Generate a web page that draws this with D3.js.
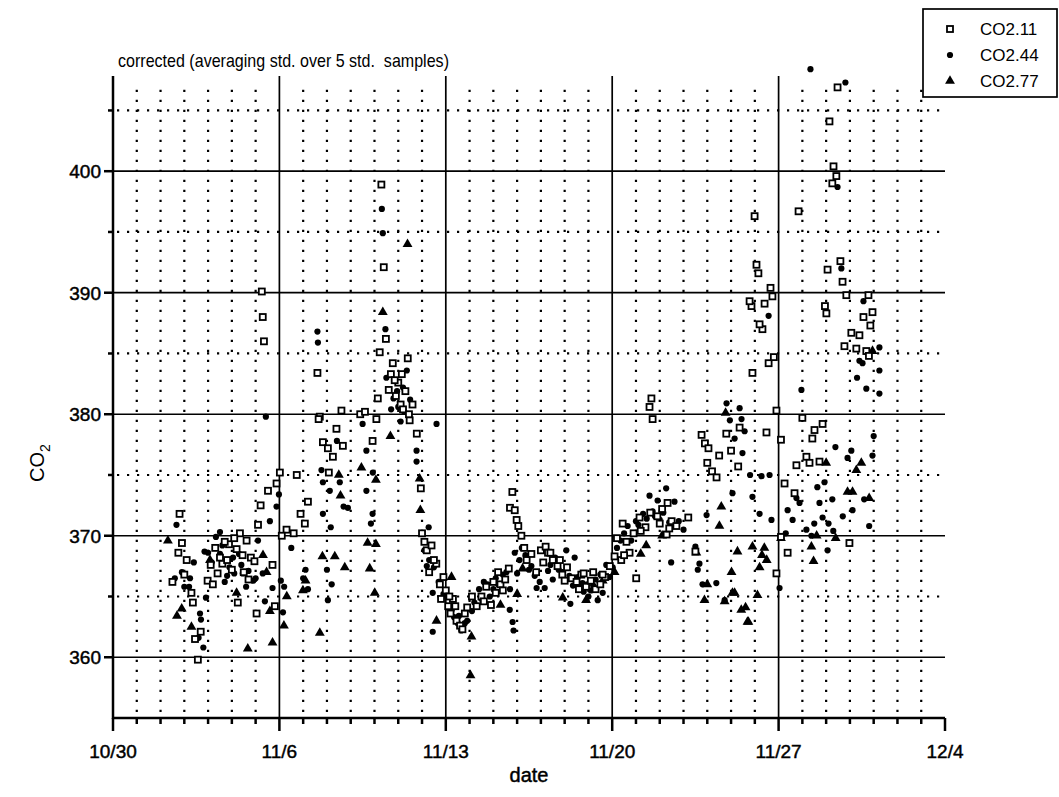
<!DOCTYPE html>
<html>
<head>
<meta charset="utf-8">
<script src="https://cdn.jsdelivr.net/npm/d3@7"></script>
<style>
  body { margin: 0; background: white; }
  text { font-family: "Liberation Sans", Arial, sans-serif; fill: black; }
  .ink { stroke: black; stroke-width: 0.45px; }
</style>
</head>
<body>
<svg id="chart" width="1059" height="797"></svg>
<script>
// days counted from 10/30, value = CO2 (ppm)
var co2_11 = [
  [2.5,366.2],[2.8,371.8],[2.9,369.4],[2.75,368.6],[3.1,368.0],[3.3,365.3],[3.36,364.5],[3.69,362.1],[3.57,359.8],[3.98,366.3],[4.11,367.6],[3.0,366.8],[3.45,361.5],
  [4.3,369.0],[4.6,367.7],[4.88,369.3],[5.0,367.2],[5.25,364.5],[5.34,370.2],[5.62,369.6],[5.5,367.0],[5.8,368.2],[6.04,363.6],[4.4,366.9],[4.8,368.0],[5.2,368.9],[4.2,366.0],
  [4.5,368.2],[4.7,369.5],[5.1,369.8],[5.45,368.4],[5.7,366.4],[5.95,367.9],
  [6.1,370.9],[6.21,372.5],[6.52,373.7],[6.88,374.3],[7.02,375.2],[6.81,364.2],[6.71,367.6],[6.26,390.1],[6.3,388.0],[6.35,386.0],
  [7.3,370.5],[7.6,370.2],[7.73,375.0],[7.89,371.8],[8.07,371.0],[8.2,372.8],[7.1,370.0],
  [8.7,379.8],[8.83,377.7],[9.04,377.2],[9.08,375.2],[9.25,376.5],[9.4,378.8],[9.61,380.3],[9.67,377.4],[8.6,383.4],[8.65,379.6],
  [10.4,380.0],[10.6,380.2],[10.92,377.8],[11.08,379.6],[11.14,381.3],[11.22,385.1],[11.29,398.9],[11.39,392.1],[11.48,386.2],[11.69,383.3],[11.77,384.2],
  [11.6,382.0],[11.9,381.5],[12.1,380.8],[12.3,381.9],[12.0,382.6],[12.2,380.4],[12.4,384.6],[12.48,379.5],[12.6,380.8],[12.78,378.4],[12.95,373.9],
  [11.85,382.8],[12.15,383.3],[12.45,380.0],
  [13.0,370.2],[13.1,369.5],[13.2,368.8],[13.4,369.2],[13.6,367.7],[13.75,366.0],[13.9,366.6],[14.0,365.5],[14.1,364.2],[14.3,364.8],[14.2,363.6],[14.45,363.0],[14.6,362.6],[14.8,363.6],[14.7,362.3],
  [13.3,367.0],[13.5,368.0],[13.8,364.8],[14.15,365.0],[14.4,364.2],[14.9,364.1],
  [15.3,364.2],[15.5,365.0],[15.7,365.8],[15.9,364.3],[16.1,365.3],[16.3,366.0],[16.5,366.4],[16.65,367.3],[16.8,373.6],[16.7,372.3],[16.9,372.1],[16.98,371.3],[17.05,370.8],[17.18,370.0],[17.3,369.0],[17.4,368.0],[17.6,368.5],[17.8,367.0],
  [15.1,365.0],[15.6,364.6],[16.0,366.2],[16.2,367.0],[16.4,365.5],
  [18.0,368.8],[18.2,369.1],[18.3,368.6],[18.5,368.0],[18.7,367.5],[18.9,366.8],[19.1,367.4],[19.3,366.5],[19.5,366.2],[19.7,366.8],[19.9,365.8],[20.1,366.3],[20.3,365.6],[20.5,366.0],[20.7,366.6],
  [18.1,367.8],[18.4,368.6],[18.8,368.0],[19.0,366.3],[19.6,365.6],[19.8,366.9],[20.2,367.0],[20.6,366.8],
  [20.9,367.5],[21.1,368.3],[21.38,368.0],[21.44,371.0],[21.6,369.5],[21.73,368.6],[22.01,366.5],[21.9,370.2],[22.15,371.5],[22.4,370.7],[22.57,380.6],[22.65,381.3],[22.7,379.6],[22.9,371.6],[23.1,372.2],[23.29,370.1],[23.33,372.7],[23.5,371.2],[23.7,370.8],
  [21.2,369.8],[21.5,368.4],[22.2,370.4],[22.6,371.9],[23.0,371.0],[23.4,370.6],
  [24.2,371.5],[24.5,368.7],[24.76,378.3],[24.9,377.6],[25.05,377.2],[25.0,376.0],[25.2,375.3],[25.39,374.8],[25.5,376.6],[25.8,378.4],[26.36,378.9],[26.0,377.0],[26.3,375.7],
  [26.86,388.9],[26.9,383.4],[26.99,396.3],[27.07,392.3],[27.15,391.6],[26.78,389.3],[27.32,387.0],[27.41,389.1],[27.2,387.4],[27.66,390.4],[27.74,389.7],[27.58,384.2],[27.8,384.7],[27.49,378.5],[27.91,380.3],[28.1,377.9],[28.25,374.3],[28.38,368.6],[27.91,366.9],[28.1,369.9],
  [28.67,373.5],[28.75,375.8],[28.84,396.7],[29.0,379.7],[29.17,376.5],[29.3,376.0],[29.51,378.7],[29.72,376.1],[29.85,379.2],[29.42,378.0],[30.01,388.3],[29.95,388.9],[30.06,391.9],[30.14,404.1],
  [30.26,399.0],[30.31,400.4],[30.43,399.6],[30.48,406.9],[30.6,392.6],[30.69,390.9],[30.85,389.8],[30.77,385.6],[30.98,369.4],[31.06,386.7],[31.27,385.4],[31.4,386.5],[31.57,388.0],[31.69,385.2],[31.78,389.8],[31.86,387.3],[31.95,388.4],[31.8,384.8]
];

var co2_44 = [
  [2.67,370.9],[2.9,367.0],[3.0,365.8],[3.2,365.8],[3.24,366.5],[3.66,363.6],[3.7,363.1],[3.6,361.6],[3.8,360.8],[3.91,364.9],[2.6,366.5],[3.4,367.8],[3.85,368.7],
  [4.33,369.9],[4.5,368.5],[4.7,366.2],[4.9,367.4],[5.1,366.9],[5.46,366.9],[5.6,365.8],[5.9,366.3],[6.1,369.6],[6.39,364.6],[6.6,371.2],[6.71,365.7],[6.98,373.4],[6.88,372.4],[6.43,379.8],[5.3,368.5],[4.5,370.3],
  [4.0,368.6],[4.15,367.8],[4.6,369.2],[4.8,366.7],[5.05,368.2],[5.4,367.6],[5.7,367.1],[6.0,366.5],[6.3,366.9],
  [7.06,366.3],[7.2,365.8],[7.15,363.7],[7.5,369.0],[8.0,366.5],[8.1,367.2],[8.2,365.6],[8.6,386.8],[8.62,385.9],[8.77,375.4],[8.83,374.4],[8.83,371.8],[9.04,364.7],[9.0,367.2],[9.12,373.7],[9.16,370.7],[9.2,366.0],[9.42,377.8],[9.54,374.4],[9.7,372.4],[9.88,372.3],
  [10.5,379.2],[10.66,377.0],[10.66,373.7],[10.92,371.8],[10.85,371.0],[10.93,375.2],[11.31,396.9],[11.35,394.9],[11.46,387.0],[11.5,383.0],[11.8,381.3],[12.0,380.6],[12.2,382.2],[12.36,383.6],[12.1,379.4],[12.77,377.0],[12.77,376.1],
  [11.7,380.4],[11.95,381.9],[12.25,380.2],[12.5,381.2],
  [13.28,370.7],[13.61,379.2],[13.45,365.3],[13.45,362.1],[13.3,368.0],[13.5,367.4],
  [13.1,368.8],[13.2,367.5],[13.7,366.2],[13.9,365.2],[14.25,363.9],[14.55,363.4],[14.8,362.8],
  [14.05,365.0],[14.15,364.0],[14.35,363.3],[14.5,362.8],[14.65,362.2],[14.9,363.0],[15.1,363.8],[15.4,365.6],[15.6,366.2],[15.85,365.0],[16.1,366.5],[16.4,366.8],[16.69,363.9],[16.81,362.9],[16.85,362.2],[16.7,365.6],
  [15.2,364.5],[15.5,364.8],[15.75,366.0],[16.0,365.6],[16.2,366.0],[16.55,367.0],[16.9,368.6],
  [17.0,366.9],[17.2,369.0],[17.5,367.2],[17.74,366.7],[17.82,365.7],[17.95,366.2],[18.16,365.7],
  [17.1,368.0],[17.35,368.4],[17.6,367.5],[18.3,367.1],[18.5,366.4],[18.75,367.2],
  [18.4,367.6],[18.6,368.2],[18.92,367.0],[19.07,368.8],[19.24,364.4],[19.42,368.2],[19.6,366.0],[19.8,365.4],[20.0,365.0],[20.2,365.9],[20.39,364.7],[20.6,365.3],[20.89,366.6],[21.02,367.4],[21.2,369.0],[21.5,370.2],[21.8,369.6],
  [19.2,366.7],[19.35,365.9],[19.55,366.6],[19.75,366.1],[19.95,366.0],[20.1,365.5],[20.3,366.4],[20.5,366.8],[20.75,367.6],[21.35,369.6],[21.65,370.8],
  [22.1,370.9],[22.3,371.8],[22.57,373.3],[22.7,372.0],[22.91,372.9],[23.0,371.3],[23.27,373.9],[23.48,367.8],[23.62,372.8],[23.8,371.2],[24.0,370.5],
  [22.0,371.2],[22.45,371.4],[22.8,371.6],[23.15,371.9],[23.4,371.1],
  [24.5,369.1],[24.6,367.2],[24.67,367.7],[24.8,366.0],[24.97,371.7],[25.38,366.1],[25.73,364.7],[25.81,380.9],[25.95,379.5],[26.06,373.5],[26.15,378.0],[26.36,380.5],[26.44,379.6],[26.57,378.6],[26.48,376.8],[26.9,373.2],[26.8,375.0],
  [27.28,374.9],[27.2,371.8],[27.58,388.1],[27.62,375.0],[27.7,371.3],[28.04,365.7],[28.3,370.2],[28.38,372.1],[28.59,371.3],[28.75,373.1],[28.88,372.7],
  [28.96,382.0],[29.17,370.5],[29.34,408.4],[29.38,370.0],[29.5,371.0],[29.63,374.0],[29.72,372.7],[29.85,371.5],[29.93,374.4],[30.06,368.8],[30.1,371.0],[30.26,373.0],[30.39,377.3],[30.3,370.4],
  [30.48,398.7],[30.64,392.0],[30.7,371.6],[30.81,407.3],[30.9,376.4],[31.06,377.0],[31.11,372.1],[31.3,383.0],[31.4,384.4],[31.53,384.2],[31.57,389.3],[31.69,382.1],[31.81,370.8],[31.95,376.6],[32.0,378.2],[32.24,385.5],[32.24,383.6],[32.24,381.7],[31.6,373.0]
];

var co2_77 = [
  [2.31,369.6],[2.89,364.0],[2.69,363.4],[3.3,362.5],[4.08,368.0],[5.2,365.3],[5.67,360.7],[6.31,368.4],[6.46,367.0],[6.6,363.8],[6.71,361.2],[7.19,362.6],[7.31,365.0],[7.99,365.5],[8.1,366.3],
  [8.7,362.0],[8.81,368.3],[9.33,368.3],[9.5,375.0],[9.57,373.3],[9.75,367.4],[10.45,375.6],[10.71,369.4],[10.8,367.3],[11.01,365.3],[11.06,374.6],[11.06,369.3],[11.35,388.4],[11.67,378.2],[12.39,394.0],
  [12.9,374.7],[12.93,372.1],[13.61,363.0],[14.24,366.6],[15.04,358.5],[15.08,361.7],[16.3,364.3],[17.23,367.3],[17.0,365.2],[18.92,364.9],[19.9,364.7],[20.6,366.3],[21.1,367.0],[22.43,369.2],[22.2,368.5],[23.1,370.0],
  [24.54,368.6],[24.88,364.7],[25.0,366.0],[25.51,370.8],[25.59,372.4],[25.73,364.6],[25.77,380.1],[26.02,367.0],[26.06,365.3],[26.15,365.3],[26.27,368.7],[26.43,363.9],[26.61,364.1],[26.69,362.9],[26.73,362.9],
  [27.11,365.1],[27.2,367.4],[26.9,369.1],[27.3,368.4],[27.5,368.0],[27.4,369.0],[28.1,369.8],[29.38,369.1],[29.47,367.9],[29.6,370.0],[30.4,369.8],[30.9,373.6],[31.11,373.6],[31.27,375.4],[31.48,376.0],[31.81,373.1],[31.95,385.2],[30.0,376.0]
];

// axis ticks
var dayTicks = [0, 7, 14, 21, 28, 35];
var dayLabels = ["10/30", "11/6", "11/13", "11/20", "11/27", "12/4"];
var valueTicks = [360, 370, 380, 390, 400];
var legendNames = ["CO2.11", "CO2.44", "CO2.77"];

var svg = d3.select("#chart");

var x = d3.scaleLinear().domain([0, 35]).range([113, 945]);
var y = d3.scaleLinear().domain([355, 408]).range([718, 74]);
var plotTop = 76;

// dotted day grid
var grid = svg.append("g");
d3.range(1, 35).filter(function(d) { return d % 7 !== 0; }).forEach(function(d) {
    grid.append("line")
        .attr("x1", x(d)).attr("x2", x(d))
        .attr("y1", y(355) - 6).attr("y2", plotTop + 10)
        .attr("stroke", "black").attr("stroke-width", 2.2)
        .attr("stroke-dasharray", "2.2,7.8");
});
// dotted half-decade lines
[365, 375, 385, 395, 405].forEach(function(v) {
    grid.append("line")
        .attr("x1", x(0) + 4).attr("x2", x(35))
        .attr("y1", y(v)).attr("y2", y(v))
        .attr("stroke", "black").attr("stroke-width", 2.2)
        .attr("stroke-dasharray", "2.2,7.8");
});
// solid week lines
[7, 14, 21, 28].forEach(function(d) {
    grid.append("line")
        .attr("x1", x(d)).attr("x2", x(d))
        .attr("y1", y(355)).attr("y2", plotTop)
        .attr("stroke", "black").attr("stroke-width", 1.7);
});
valueTicks.forEach(function(v) {
    grid.append("line")
        .attr("x1", x(0)).attr("x2", x(35))
        .attr("y1", y(v)).attr("y2", y(v))
        .attr("stroke", "black").attr("stroke-width", 1.7);
});

// x axis: minor ticks each day, major each week
var xAxis = svg.append("g").attr("transform", "translate(0," + y(355) + ")");
xAxis.append("line").attr("x1", x(0)).attr("x2", x(35))
    .attr("stroke", "black").attr("stroke-width", 2.5);
d3.range(0, 36).forEach(function(d) {
    xAxis.append("line")
        .attr("x1", x(d)).attr("x2", x(d))
        .attr("y1", 0).attr("y2", d % 7 === 0 ? 13 : 6)
        .attr("stroke", "black").attr("stroke-width", 2.5);
});
xAxis.selectAll("text.tick").data(dayTicks).enter().append("text")
    .attr("class", "ink")
    .attr("x", function(d) { return x(d); })
    .attr("y", 40)
    .attr("text-anchor", "middle")
    .style("font-size", "19px")
    .text(function(d, i) { return dayLabels[i]; });
svg.append("text").attr("class", "ink").attr("x", x(17.5)).attr("y", 782)
    .attr("text-anchor", "middle").style("font-size", "20px").text("date");

// y axis
var yAxis = svg.append("g");
yAxis.append("line").attr("x1", x(0)).attr("x2", x(0))
    .attr("y1", plotTop).attr("y2", y(355) + 1)
    .attr("stroke", "black").attr("stroke-width", 2.5);
d3.range(360, 410, 5).forEach(function(v) {
    yAxis.append("line")
        .attr("x1", x(0)).attr("x2", x(0) - (v % 10 === 0 ? 9 : 5))
        .attr("y1", y(v)).attr("y2", y(v))
        .attr("stroke", "black").attr("stroke-width", 2.5);
});
yAxis.selectAll("text").data(valueTicks).enter().append("text")
    .attr("class", "ink")
    .attr("x", 101).attr("y", function(v) { return y(v) + 7; })
    .attr("text-anchor", "end")
    .style("font-size", "19px")
    .text(function(v) { return v; });
var yl = svg.append("text")
    .attr("transform", "translate(44," + 463 + ") rotate(-90)")
    .attr("text-anchor", "middle").style("font-size", "20px");
yl.append("tspan").text("CO");
yl.append("tspan").attr("dy", 6).style("font-size", "14px").text("2");

// title
svg.append("text").attr("x", 118).attr("y", 67)
    .attr("xml:space", "preserve")
    .style("white-space", "pre")
    .attr("textLength", 331).attr("lengthAdjust", "spacingAndGlyphs")
    .style("font-size", "19px")
    .text("corrected (averaging std. over 5 std.  samples)");

// markers
var tri = d3.symbol().type(d3.symbolTriangle).size(42);
function drawSquares(g, data, px, py) {
    g.selectAll("rect").data(data).enter().append("rect")
        .attr("x", function(d) { return px(d) - 3; })
        .attr("y", function(d) { return py(d) - 3; })
        .attr("width", 6).attr("height", 6)
        .attr("fill", "white").attr("stroke", "black").attr("stroke-width", 1.8);
}
function drawDots(g, data, px, py) {
    g.selectAll("circle").data(data).enter().append("circle")
        .attr("cx", px).attr("cy", py)
        .attr("r", 3.1).attr("fill", "black");
}
function drawTriangles(g, data, px, py) {
    g.selectAll("path").data(data).enter().append("path")
        .attr("d", tri)
        .attr("transform", function(d) { return "translate(" + px(d) + "," + py(d) + ")"; })
        .attr("fill", "black");
}
var px = function(d) { return x(d[0]); };
var py = function(d) { return y(d[1]); };
drawTriangles(svg.append("g"), co2_77, px, py);
drawDots(svg.append("g"), co2_44, px, py);
drawSquares(svg.append("g"), co2_11, px, py);

// legend
var legend = svg.append("g");
legend.append("rect").attr("x", 923).attr("y", 9).attr("width", 134).attr("height", 88)
    .attr("fill", "white").attr("stroke", "black").attr("stroke-width", 1.7);
var rows = [29, 55, 81];
var lx = function() { return 950; };
drawSquares(legend.append("g"), [rows[0]], lx, function(d) { return d; });
drawDots(legend.append("g"), [rows[1]], lx, function(d) { return d; });
drawTriangles(legend.append("g"), [rows[2]], lx, function(d) { return d; });
legend.selectAll("text").data(legendNames).enter().append("text")
    .attr("x", 980).attr("y", function(d, i) { return rows[i] + 6; })
    .style("font-size", "17px")
    .text(function(d) { return d; });
</script>
</body>
</html>
